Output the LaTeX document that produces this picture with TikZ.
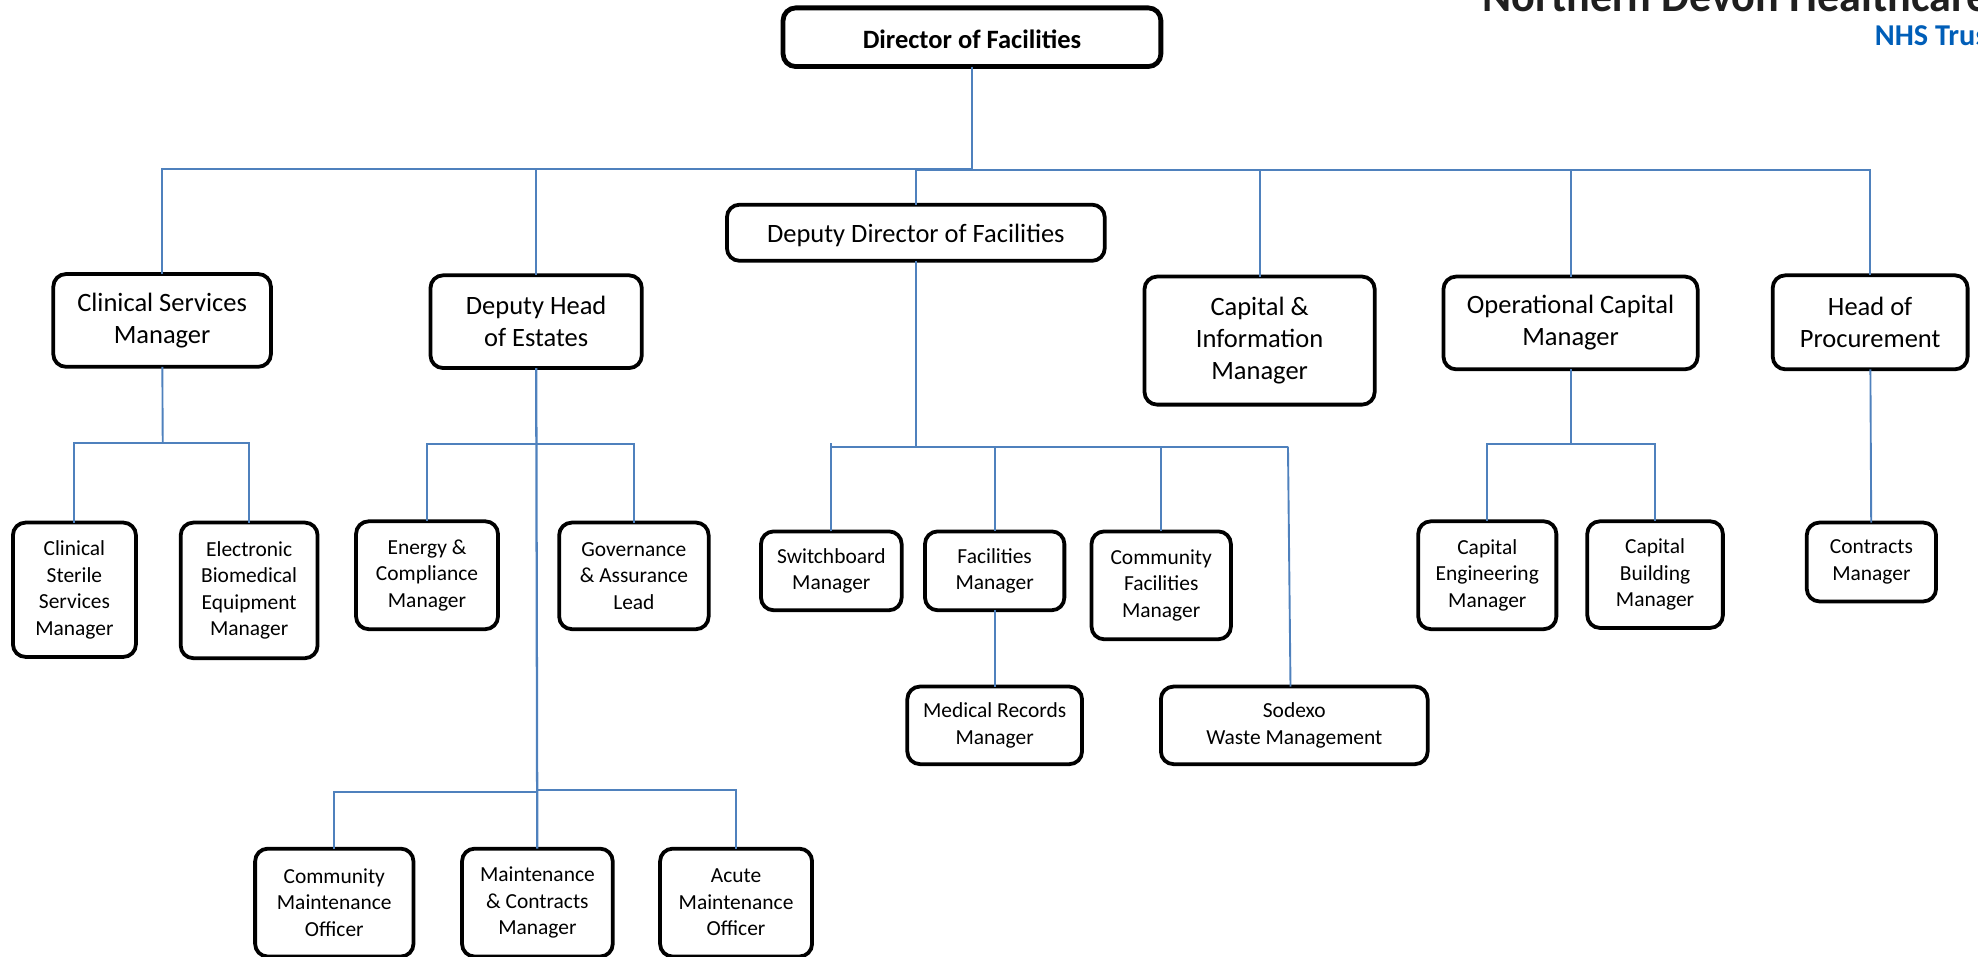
\documentclass[tikz,border=0pt]{standalone}
\usepackage{fontspec}
\setmainfont{Carlito}
\definecolor{linkblue}{HTML}{4F81BD}
\definecolor{nhsblue}{HTML}{005EB8}
\tikzstyle{boxbase}=[draw,rectangle,rounded corners=10pt,line width=3pt,align=center,inner sep=0pt,outer sep=0pt]
\tikzstyle{boxs}=[boxbase,font=\fontsize{17}{21}\selectfont,execute at begin node={\vspace*{3pt}}]
\tikzstyle{boxb}=[boxbase,font=\fontsize{21}{25.5}\selectfont,execute at begin node={\vspace*{3pt}}]
\tikzstyle{boxone}=[boxbase,font=\fontsize{21}{25.5}\selectfont,execute at begin node={\rule{0pt}{0.93em}}]
\tikzstyle{boxtop}=[boxbase,line width=3.8pt,font=\fontsize{21}{24}\selectfont\bfseries,execute at begin node={\rule{0pt}{0.85em}}]
\tikzstyle{link}=[linkblue,line width=1.5pt]
\tikzset{dim/.style 2 args={minimum width=#1pt+1.5pt,minimum height=#2pt+1.5pt}}

\begin{document}
\begin{tikzpicture}[x=1pt,y=-1pt]
    \useasboundingbox (0,0) rectangle (1568,758);
    % logo
    \node[anchor=base west,inner sep=0pt,font=\fontsize{35}{35}\selectfont\bfseries,text=black!88] (trust) at (1175,9) {Northern Devon Healthcare};
    \node[anchor=base west,inner sep=0pt,font=\fontsize{24}{24}\selectfont\bfseries,text=nhsblue] (nhs) at (1486,36) {NHS Trust};

    % top row
    \node[boxtop,dim={298}{45}] (dir) at (770.5,29.5) {Director of Facilities};
    \node[boxone,dim={298}{43}] (dep) at (726,184.5) {Deputy Director of Facilities};
    \node[boxb,dim={171}{72}] (clin) at (128.5,254) {Clinical Services\\Manager};
    \node[boxb,dim={166}{72}] (head) at (425,255) {Deputy Head\\of Estates};
    \node[boxb,dim={181}{100}] (capinf) at (998.5,270) {Capital \&\\Information\\Manager};
    \node[boxb,dim={200}{72}] (oper) at (1245,256) {Operational Capital\\Manager};
    \node[boxb,dim={153}{73}] (proc) at (1482.5,255.5) {Head of\\Procurement};

    % second row
    \node[boxs,dim={96}{105}] (sterile) at (59,467.5) {Clinical\\Sterile\\Services\\Manager};
    \node[boxs,dim={107}{106}] (biomed) at (197.5,468) {Electronic\\Biomedical\\Equipment\\Manager};
    \node[boxs,dim={111}{84}] (energy) at (338.5,456) {Energy \&\\Compliance\\Manager};
    \node[boxs,dim={117}{83}] (gov) at (502.5,456.5) {Governance\\\& Assurance\\Lead};
    \node[boxs,dim={110}{61}] (switch) at (659,452.5) {Switchboard\\Manager};
    \node[boxs,dim={109}{61}] (fac) at (788.5,452.5) {Facilities\\Manager};
    \node[boxs,dim={109}{84}] (comm) at (920.5,464) {Community\\Facilities\\Manager};
    \node[boxs,dim={108}{84}] (eng) at (1179,456) {Capital\\Engineering\\Manager};
    \node[boxs,dim={106}{83}] (build) at (1312,455.5) {Capital\\Building\\Manager};
    \node[boxs,dim={101}{61}] (contr) at (1483.5,445.5) {Contracts\\Manager};

    % lower rows
    \node[boxs,dim={137}{60}] (med) at (788.5,575) {Medical Records\\Manager};
    \node[boxs,dim={210}{60}] (sodexo) at (1026,575) {Sodexo\\Waste Management};
    \node[boxs,dim={124}{84}] (cmaint) at (265,715.5) {Community\\Maintenance\\Officer};
    \node[boxs,dim={118}{84}] (mcontr) at (426,715.5) {Maintenance\\\& Contracts\\Manager};
    \node[boxs,dim={119}{84}] (amaint) at (583.5,715.5) {Acute\\Maintenance\\Officer};

    % bus points
    \coordinate (busl) at (770.5,134);
    \coordinate (busr) at (770.5,135);
    \coordinate (busclin) at (129,351);
    \coordinate (bushead) at (425,352);
    \coordinate (busdep) at (726,354);
    \coordinate (busoper) at (1245,352);
    \coordinate (buslowl) at (425,628);
    \coordinate (buslowr) at (425,626);
    \coordinate (tick) at (659,351);

    \draw[link,line width=2pt] (dir) -- (busl);
    \draw[link] (dep) -- (busdep);
    \draw[link] (clin) -- (busclin);
    \draw[link] (oper) -- (busoper);
    \draw[link,line width=1.8pt] (head) -- (mcontr);
    \draw[link] (fac) -- (med);
    \draw[link] (proc) -- (contr);
    \draw[link] (switch) -- (tick);
    \draw[link] (busdep -| sodexo.north) ++(-5,0) coordinate (sodturn) -- (sodexo.north -| 1023,0);

    \foreach \from/\to in {busl/clin,busl/head,busr/dep,busr/capinf,busr/oper,busr/proc,
        busclin/sterile,busclin/biomed,bushead/energy,bushead/gov,
        busdep/switch,busdep/fac,busdep/comm,
        busoper/eng,busoper/build,buslowl/cmaint,buslowr/amaint}
    \draw[link] (\from) -| (\to.north);
    \draw[link] (busdep) -- (sodturn);
\end{tikzpicture}
\end{document}
